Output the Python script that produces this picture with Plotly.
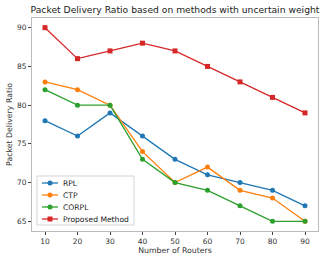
import plotly.graph_objects as go

routers = [10, 20, 30, 40, 50, 60, 70, 80, 90]
rpl = [78, 76, 79, 76, 73, 71, 70, 69, 67]
ctp = [83, 82, 80, 74, 70, 72, 69, 68, 65]
corpl = [82, 80, 80, 73, 70, 69, 67, 65, 65]
proposed = [90, 86, 87, 88, 87, 85, 83, 81, 79]

series = [
    ("RPL", rpl, "#1f77b4", "circle"),
    ("CTP", ctp, "#ff7f0e", "circle"),
    ("CORPL", corpl, "#2ca02c", "circle"),
    ("Proposed Method", proposed, "#d62728", "square"),
]

W, H = 331, 262
ML, MR, MT, MB = 32, 13, 18, 31
PW, PH = W - ML - MR, H - MT - MB

fig = go.Figure()
for name, vals, color, sym in series:
    fig.add_trace(go.Scatter(
        x=routers, y=vals, name=name, mode="lines+markers",
        line=dict(color=color, width=1.3),
        marker=dict(color=color, size=5, symbol=sym),
        showlegend=False,
    ))

# compact matplotlib-style legend in paper coordinates
def px_x(p):
    return (p - ML) / PW

def px_y(p):
    return (H - MB - p) / PH

shapes = [dict(type="rect", xref="paper", yref="paper",
               x0=px_x(37), x1=px_x(134), y0=px_y(225), y1=px_y(176),
               line=dict(color="#d5d5d5", width=1), fillcolor="rgba(255,255,255,0.85)",
               layer="above")]
annotations = []
for i, (name, vals, color, sym) in enumerate(series):
    yy = 183 + i * 12
    shapes.append(dict(type="line", xref="paper", yref="paper",
                       x0=px_x(42), x1=px_x(58), y0=px_y(yy), y1=px_y(yy),
                       line=dict(color=color, width=1.3), layer="above"))
    shapes.append(dict(type="circle" if sym == "circle" else "rect",
                       xref="paper", yref="paper", xsizemode="pixel", ysizemode="pixel",
                       xanchor=px_x(50), yanchor=px_y(yy),
                       x0=-2.5, x1=2.5, y0=-2.5, y1=2.5,
                       fillcolor=color, line=dict(color=color, width=0), layer="above"))
    annotations.append(dict(xref="paper", yref="paper", x=px_x(61), y=px_y(yy),
                            xanchor="left", yanchor="middle", showarrow=False,
                            text=name, font=dict(family="DejaVu Sans", size=7.6, color="#222222")))

axis_common = dict(
    showgrid=False, zeroline=False, showline=True, mirror=True, automargin=False,
    linecolor="#bbbbbb", linewidth=1, ticks="outside", ticklen=3,
    tickcolor="#444444", tickfont=dict(family="DejaVu Sans", size=7.5, color="#333333"),
)

fig.update_layout(
    width=W, height=H,
    margin=dict(l=ML, r=MR, t=MT, b=MB),
    paper_bgcolor="white", plot_bgcolor="white",
    title=dict(text="Packet Delivery Ratio based on methods with uncertain weight",
               xref="paper", x=0.5, xanchor="center",
               yref="container", y=1 - 10 / H, yanchor="middle",
               font=dict(family="DejaVu Sans", size=9.2, color="#222222")),
    xaxis=dict(range=[6, 94], tickvals=routers,
               title=dict(text="Number of Routers", standoff=1,
                          font=dict(family="DejaVu Sans", size=7.8, color="#333333")),
               **axis_common),
    yaxis=dict(range=[63.75, 91.25], tickvals=[65, 70, 75, 80, 85, 90],
               title=dict(text="Packet Delivery Ratio", standoff=3,
                          font=dict(family="DejaVu Sans", size=7.8, color="#333333")),
               **axis_common),
    shapes=shapes,
    annotations=annotations,
    showlegend=False,
)

fig.write_html("out.html", config={"displayModeBar": False},
               post_script="document.body.style.margin='0';")
